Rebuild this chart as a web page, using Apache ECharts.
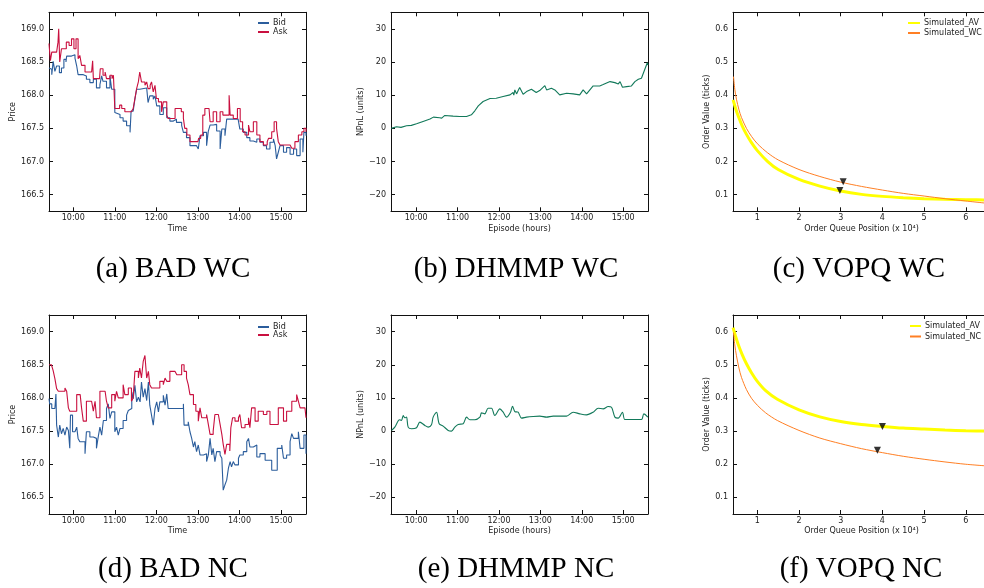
<!DOCTYPE html>
<html><head><meta charset="utf-8">
<script src="https://cdn.jsdelivr.net/npm/echarts@6/dist/echarts.min.js"></script>
<style>html,body{margin:0;padding:0;background:#fff}#c{width:984px;height:588px}</style>
</head><body><div id="c"></div>
<script>
// ---------- data (time in minutes after midnight) ----------
const timeTicks = [600, 660, 720, 780, 840, 900];
const priceTicks = [166.5, 167.0, 167.5, 168.0, 168.5, 169.0];
const pnlTicks = [-20, -10, 0, 10, 20, 30];
const queueTicks = [1, 2, 3, 4, 5, 6];
const valueTicks = [0.1, 0.2, 0.3, 0.4, 0.5, 0.6];
const captions = ['(a) BAD WC', '(b) DHMMP WC', '(c) VOPQ WC', '(d) BAD NC', '(e) DHMMP NC', '(f) VOPQ NC'];

const bidWC = [[565,168.41],[566,168.39],[569,168.31],[571,168.51],[573.5,168.36],[576,168.44],[580,168.34],[583,168.41],[586.5,168.54],[589.5,168.5],[590.5,168.59],[597.5,168.61],[602.5,168.56],[605,168.44],[607,168.31],[614.5,168.29],[619,168.24],[624,168.19],[629,168.24],[633.5,168.11],[638.5,168.16],[641,168.29],[643,168.21],[648,168.11],[653,168.29],[655.5,168.09],[660,167.74],[662.5,167.71],[667.5,167.66],[672,167.61],[677,167.54],[682,167.44],[683.5,167.76],[686.5,167.79],[689,167.94],[691.5,168.09],[696,168.11],[706,168.11],[708,167.89],[710.5,167.99],[715.5,167.94],[718,167.99],[720.5,167.84],[725,167.71],[730,167.81],[735,167.66],[739.5,167.61],[744.5,167.64],[749,167.59],[756.5,167.54],[759,167.44],[763.5,167.36],[768.5,167.24],[778,167.24],[780.5,167.19],[783,167.39],[788,167.44],[792.5,167.24],[795,167.46],[797.5,167.55],[802,167.56],[807,167.46],[812,167.19],[814.5,167.49],[819,167.39],[821.5,167.64],[838,167.64],[840.5,167.49],[845.5,167.44],[850.5,167.36],[855,167.31],[860,167.29],[865,167.34],[869.5,167.29],[874.5,167.24],[879,167.19],[884,167.29],[889,167.34],[891.5,167.24],[893.5,167.04],[896,167.14],[898.5,167.24],[903.5,167.14],[908,167.21],[913,167.11],[918,167.19],[922.5,167.09],[927.5,167.34],[931.5,167.14],[933,167.44],[936,167.39]];
const askWC = [[565,168.78],[567,168.52],[569,168.65],[576,168.65],[578,168.8],[579,169.0],[580.5,168.5],[583,168.7],[590,168.8],[594,168.75],[597.5,168.85],[601,168.7],[604,168.85],[607,168.55],[609.5,168.6],[612,168.45],[617,168.35],[626.5,168.35],[628,168.52],[629,168.25],[638,168.25],[639,168.4],[643,168.3],[646,168.35],[648,168.25],[653,168.3],[656,168.25],[658,168.3],[660,167.8],[667,167.85],[670,167.8],[674.5,167.75],[684,167.75],[686.5,167.8],[689,167.95],[691.5,168.1],[694,168.2],[696,168.35],[698.5,168.2],[703.5,168.15],[706,168.2],[708,168.1],[711,168.15],[713,168.2],[715.5,168.05],[718,168.15],[720,167.95],[723,167.9],[727.5,167.75],[730,167.9],[735,167.7],[737,167.65],[744,167.65],[747,167.8],[752,167.8],[756,167.75],[759,167.65],[761,167.5],[764,167.4],[768.5,167.3],[780,167.3],[781,167.35],[784,167.4],[787,167.7],[790,167.8],[796,167.8],[797.5,167.6],[802,167.75],[807,167.6],[812,167.75],[816,167.7],[821.5,167.7],[825,168.0],[826.5,167.7],[831,167.65],[837,167.8],[841,167.6],[844.5,167.45],[848,167.4],[853,167.55],[855,167.45],[860,167.6],[865,167.4],[869.5,167.3],[874.5,167.25],[880,167.3],[882,167.35],[886.5,167.45],[890,167.6],[893.5,167.5],[896,167.3],[898.5,167.25],[913,167.25],[915.5,167.2],[920,167.3],[925,167.4],[930,167.45],[933,167.5],[936,167.45]];
const bidNC = [[565,167.99],[566,167.91],[569,167.84],[573.5,167.84],[575,168.06],[576,167.59],[578.5,167.41],[580.5,167.59],[583,167.46],[585.5,167.54],[588,167.44],[590.5,167.56],[593,167.51],[595,167.24],[596,167.74],[599,167.49],[602.5,167.51],[605,167.56],[607,167.39],[609.5,167.34],[617,167.16],[619,167.49],[624,167.41],[629,167.39],[633.5,167.24],[636,167.41],[638.5,167.56],[641,167.44],[643.5,167.66],[648,167.84],[650.5,167.91],[653,167.69],[655.5,167.79],[660,167.49],[662.5,167.56],[665,167.44],[667.5,167.54],[672,167.66],[677,167.74],[679.5,167.81],[682,167.84],[684.5,168.09],[686.5,167.99],[689,168.19],[691.5,167.94],[694,168.01],[696.5,167.94],[698.5,168.24],[701,168.01],[703.5,168.14],[706,167.96],[708.5,168.24],[710.5,167.89],[713,167.74],[715.5,167.59],[718,167.84],[720.5,167.94],[723,167.79],[725,167.94],[730,168.04],[732.5,167.89],[735,168.06],[737,167.84],[759,167.91],[760,167.59],[766,167.64],[768.5,167.49],[771,167.39],[773.5,167.26],[775.5,167.34],[778,167.19],[780.5,167.29],[783,167.14],[788,167.16],[792.5,167.04],[795,167.14],[797.5,167.39],[800,167.14],[802,167.24],[804.5,167.04],[807,167.19],[812,167.14],[814.5,167.09],[816.5,166.61],[819,166.69],[821.5,166.76],[824,166.94],[826.5,167.04],[828.5,166.96],[831,167.04],[833.5,166.99],[838.5,167.09],[840.5,167.14],[845.5,167.19],[850.5,167.34],[853,167.39],[855,167.26],[860,167.24],[862.5,167.29],[865,167.11],[869.5,167.16],[877,167.06],[886.5,166.91],[894.5,167.24],[901,167.29],[903.5,167.09],[908,167.14],[913,167.34],[915.5,167.46],[918,167.39],[925,167.49],[927.5,167.24],[933,167.44],[936,167.16]];
const askNC = [[565,168.5],[568.5,168.49],[571,168.41],[573.5,168.29],[576,168.14],[578.5,168.1],[588,168.15],[590.5,168.1],[593,167.85],[595,167.8],[600,167.8],[605,168.05],[610,168.05],[612,167.85],[614.5,167.65],[619,167.95],[626.5,167.95],[629,167.8],[631.5,167.95],[633.5,167.7],[638.5,168.1],[646,168.1],[648,167.95],[650.5,167.85],[655.5,168.05],[660,167.95],[662.5,168.1],[665,168.0],[672,168.2],[674.5,168.05],[679.5,168.15],[684,167.95],[686.5,168.0],[689,168.4],[694,168.3],[696,168.45],[698.5,168.3],[701,168.55],[703.5,168.64],[706,168.3],[708.5,168.4],[710.5,168.2],[713,168.15],[720.5,168.15],[725,168.25],[730,168.2],[732.5,168.3],[735,168.25],[739.5,168.4],[747,168.4],[749.5,168.35],[756.5,168.5],[760,168.4],[763.5,168.3],[766,168.2],[768.5,168.05],[773.5,167.9],[777,167.8],[780.5,167.65],[783,167.85],[785.5,167.7],[792.5,167.75],[795,167.6],[797.5,167.45],[802,167.5],[804.5,167.75],[809.5,167.75],[812,167.6],[814.5,167.45],[816.5,167.3],[819,167.15],[821.5,167.3],[826,167.2],[827.5,167.55],[830,167.7],[833.5,167.65],[838.5,167.7],[840.5,167.75],[843,167.55],[848,167.6],[853,167.7],[855,167.55],[857.5,167.85],[862.5,167.65],[867,167.8],[874.5,167.75],[879.5,167.8],[884,167.6],[891.5,167.6],[896,167.85],[903.5,167.65],[908,167.8],[915.5,167.95],[922.5,168.05],[925,167.95],[927.5,167.85],[934.5,167.85],[936,167.7]];

const pnlWC = [[564,0],[571.5,0.5],[578,0.3],[586,0.8],[593,0.9],[600.5,1.4],[610,2.1],[620,2.8],[625,3.4],[634,3.2],[637,3.1],[641.5,3.9],[653.5,3.7],[663,3.6],[673,3.6],[680,4.1],[685,5.3],[690,6.8],[697,8.1],[707,9.0],[709,9.4],[716,9.1],[726,9.6],[736,10.1],[740.5,10.8],[741.5,10.0],[743,11.6],[745.5,10.4],[748,11.5],[750,12.3],[755,10.3],[760,11.1],[767,11.8],[774,10.8],[779,11.4],[786.5,12.9],[789,11.6],[796,12.1],[801,11.6],[808,10.1],[818,10.6],[827.5,10.4],[837,10.1],[842,11.6],[847,10.4],[856.5,12.8],[866,12.8],[871,13.2],[881,14.1],[888,13.8],[893,13.4],[895.5,14.1],[899,12.4],[905,12.6],[912,12.8],[917,14.1],[922,14.8],[926.5,15.1],[931,17.6],[935,19.8],[936,19.1]];
const pnlNC = [[564.3,0.2],[569,1.2],[574,3.1],[576.3,3.4],[578.7,3.2],[581.2,4.7],[583.6,4.0],[586,4.2],[588.4,1.2],[593.2,0.7],[600.5,1.0],[605.3,2.7],[612.6,1.7],[617.4,1.2],[622.2,1.9],[624.6,4.2],[629.5,5.7],[633.3,2.2],[639.1,1.5],[646.4,0.2],[651.2,0.0],[656,1.2],[660.9,2.0],[668.1,2.2],[673,4.2],[677.8,3.4],[685,3.4],[692.3,4.2],[694.7,5.5],[699.5,5.2],[704.3,6.9],[709.2,6.9],[714,4.7],[721.3,6.7],[726.1,5.7],[730.9,4.2],[736.7,5.7],[739.6,7.5],[743,5.9],[747.8,5.7],[752.7,3.9],[759.9,4.2],[769.6,4.4],[779.2,4.5],[788.9,4.2],[798.6,4.5],[808.2,4.5],[817.9,4.5],[827.5,5.7],[837.2,5.2],[846.9,4.9],[856.5,5.7],[863.8,6.9],[871,6.7],[878.3,7.4],[883.1,7.2],[888,4.2],[892.8,3.9],[899,5.7],[902.4,3.5],[914.5,3.5],[926.6,3.5],[930,5.2],[935.8,4.2]];

const avWC = [[0.42,0.386],[0.48,0.36],[0.54,0.338],[0.64,0.307],[0.74,0.282],[0.86,0.257],[1.0,0.233],[1.25,0.2],[1.5,0.176],[2,0.146],[2.5,0.126],[3,0.111],[3.5,0.101],[4,0.095],[4.5,0.091],[5,0.088],[5.5,0.086],[6,0.085],[6.6,0.084]];
const simWC = [[0.43,0.456],[0.46,0.418],[0.5,0.388],[0.56,0.356],[0.62,0.333],[0.74,0.300],[0.86,0.276],[1.0,0.254],[1.25,0.226],[1.5,0.205],[2,0.176],[2.5,0.155],[3,0.138],[3.5,0.125],[4,0.114],[4.5,0.104],[5,0.096],[5.5,0.088],[6,0.081],[6.6,0.073]];
const avNC = [[0.42,0.612],[0.48,0.585],[0.54,0.562],[0.64,0.530],[0.74,0.503],[0.86,0.476],[1.0,0.450],[1.2,0.422],[1.48,0.396],[2,0.364],[2.5,0.343],[3,0.329],[3.5,0.32],[4,0.314],[4.5,0.309],[5,0.306],[5.5,0.303],[6,0.301],[6.6,0.300]];
const simNC = [[0.43,0.597],[0.46,0.56],[0.5,0.527],[0.56,0.49],[0.62,0.462],[0.74,0.425],[0.86,0.399],[1.0,0.378],[1.2,0.355],[1.48,0.332],[2,0.302],[2.5,0.279],[3,0.262],[3.5,0.247],[4,0.235],[4.5,0.224],[5,0.215],[5.5,0.207],[6,0.2],[6.6,0.194]];
const markWC = [[2.98,0.113],[3.06,0.139]];
const markNC = [[4.0,0.314],[3.88,0.242]];

// ---------- layout ----------
const FONT = 'DejaVu Sans';
const grids = [
  {left:49, top:12.3, width:257, height:199},
  {left:391, top:12.3, width:257, height:199},
  {left:733, top:12.3, width:257, height:199},
  {left:49, top:315, width:257, height:199},
  {left:391, top:315, width:257, height:199},
  {left:733, top:315, width:257, height:199}
].map(g => Object.assign({outerBoundsMode:'none', containLabel:false}, g));

const fmtTime = v => Math.floor(v/60) + ':' + String(Math.round(v % 60)).padStart(2,'0');
const fmt1 = v => v.toFixed(1);
const fmtInt = v => (v < 0 ? '\u2212' + (-v) : String(v));

const xCfg = [
  {min:565, max:936, ticks:timeTicks, fmt:fmtTime, name:'Time'},
  {min:563.5, max:936, ticks:timeTicks, fmt:fmtTime, name:'Episode (hours)'},
  {min:0.417, max:6.58, ticks:queueTicks, fmt:v=>String(v), name:'Order Queue Position (x 10\u2074)'}
];
const yCfg = [
  {min:166.25, max:169.25, ticks:priceTicks, fmt:fmt1, name:'Price', gap:32},
  {min:-25, max:35, ticks:pnlTicks, fmt:fmtInt, name:'NPnL (units)', gap:20},
  {min:0.05, max:0.65, ticks:valueTicks, fmt:fmt1, name:'Order Value (ticks)', gap:20}
];
const lineC = '#111';
const txt = {fontFamily:FONT, fontSize:8, color:'#222'};
const xAxes = [], yAxes = [];
for (let gi = 0; gi < 6; gi++) {
  const xc = xCfg[gi % 3], yc = yCfg[gi % 3];
  const rowGap = gi < 3 ? 13.5 : 12.5;
  ['bottom','top'].forEach(pos => xAxes.push({
    type:'value', gridIndex:gi, position:pos, min:xc.min, max:xc.max,
    axisLine:{show:true, onZero:false, lineStyle:{color:lineC, width:1}},
    axisTick:{show:true, inside:true, length:4, customValues:xc.ticks, lineStyle:{color:lineC, width:1}},
    axisLabel:Object.assign({show:pos==='bottom', customValues:xc.ticks, formatter:xc.fmt, margin:3}, txt),
    splitLine:{show:false},
    name: pos==='bottom' ? xc.name : '', nameLocation:'middle', nameGap:rowGap,
    nameTextStyle:Object.assign({}, txt)
  }));
  ['left','right'].forEach(pos => yAxes.push({
    type:'value', gridIndex:gi, position:pos, min:yc.min, max:yc.max,
    axisLine:{show:true, onZero:false, lineStyle:{color:lineC, width:1}},
    axisTick:{show:true, inside:true, length:4, customValues:yc.ticks, lineStyle:{color:lineC, width:1}},
    axisLabel:Object.assign({show:pos==='left', customValues:yc.ticks, formatter:yc.fmt, margin:5}, txt),
    splitLine:{show:false},
    name: pos==='left' ? yc.name : '', nameLocation:'middle', nameGap:yc.gap,
    nameTextStyle:Object.assign({}, txt)
  }));
}

const BLUE = '#2b5d9c', RED = '#c9103f', GREEN = '#12795a', YEL = '#ffff00', ORG = '#ff7f24';
function ln(name, gi, data, color, width, extra) {
  return Object.assign({name, type:'line', xAxisIndex:gi*2, yAxisIndex:gi*2, data, showSymbol:false, symbol:'none',
    color, lineStyle:{color, width}, animation:false, silent:true}, extra || {});
}
function marks(gi, data) {
  return {type:'scatter', xAxisIndex:gi*2, yAxisIndex:gi*2, data, symbol:'triangle', symbolRotate:180,
    symbolSize:7, itemStyle:{color:'#000'}, animation:false, silent:true, z:5};
}
const curve = {smooth:0.3};
const series = [
  ln('Bid', 0, bidWC, BLUE, 1.1, {step:'end'}),
  ln('Ask', 0, askWC, RED, 1.1, {step:'end'}),
  ln('NPnL WC', 1, pnlWC, GREEN, 1.1),
  ln('Simulated_AV', 2, avWC, YEL, 3, curve),
  ln('Simulated_WC', 2, simWC, ORG, 1, curve),
  marks(2, markWC),
  ln('Bid', 3, bidNC, BLUE, 1.1, {step:'end'}),
  ln('Ask', 3, askNC, RED, 1.1, {step:'end'}),
  ln('NPnL NC', 4, pnlNC, GREEN, 1.1, {smooth:0.3}),
  ln('Simulated_AV', 5, avNC, YEL, 3, curve),
  ln('Simulated_NC', 5, simNC, ORG, 1, curve),
  marks(5, markNC)
];

function leg(data, left, top, gap, w) {
  return {data, orient:'vertical', left, top, itemWidth:w, itemHeight:2, itemGap:gap, icon:'rect',
    padding:0, selectedMode:false, textStyle:Object.assign({padding:[0,0,0,-1]}, txt)};
}
const legends = [
  leg(['Bid','Ask'], 258, 19, 1, 11),
  leg(['Bid','Ask'], 258, 323, 0, 11),
  leg(['Simulated_AV','Simulated_WC'], 908, 19, 2, 12),
  leg(['Simulated_AV','Simulated_NC'], 910, 322, 2.5, 11)
];

const capPos = [[173,269],[516,269],[859,269],[173,569],[516,569],[861,569]];
const graphic = captions.map((t, i) => ({
  type:'text', x:capPos[i][0], y:capPos[i][1], silent:true,
  style:{text:t, fontFamily:'Liberation Serif', fontSize:29, fill:'#000', align:'center', verticalAlign:'middle'}
}));

const chart = echarts.init(document.getElementById('c'), null, {renderer:'canvas'});
chart.setOption({
  animation:false, backgroundColor:'#fff',
  grid:grids, xAxis:xAxes, yAxis:yAxes, series, legend:legends, graphic
});
</script></body></html>
